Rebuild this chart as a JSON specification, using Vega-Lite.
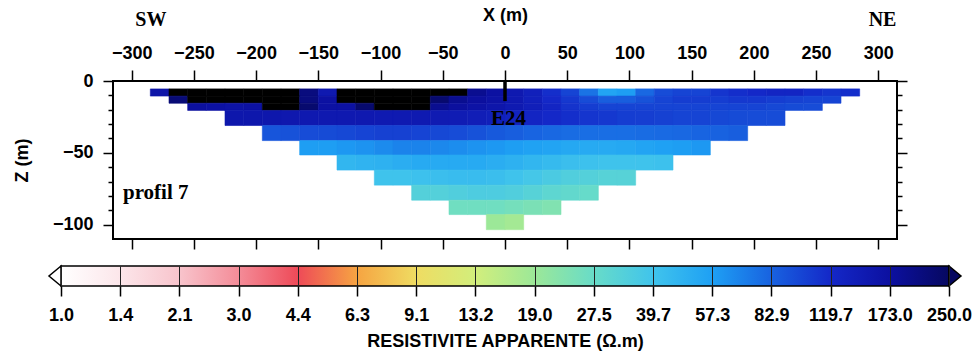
{
"$schema": "https://vega.github.io/schema/vega-lite/v6.json",
"background": "white",
"padding": {"left": 12, "top": 5, "right": 5, "bottom": 5},
"bounds": "flush",
"center": true,
"spacing": 27,
"config": {
  "font": "Liberation Sans",
  "axis": {"labelFont": "Liberation Sans", "labelFontSize": 18, "labelFontWeight": "bold", "labelColor": "black", "titleFont": "Liberation Sans", "titleFontSize": 18, "titleFontWeight": "bold", "titleColor": "black", "tickColor": "black", "tickWidth": 1.5, "labelFlush": false, "labelOverlap": false, "grid": false, "domain": false}
},
"vconcat": [
{
  "width": 784, "height": 158,
  "view": {"stroke": "black", "strokeWidth": 2},
  "resolve": {"axis": {"x": "independent", "y": "independent"}},
  "layer": [
  {
    "data": {"values": [
{"x0":-285,"x1":-270,"z0":-5.5,"z1":-10.5,"r":160},
{"x0":-270,"x1":-255,"z0":-5.5,"z1":-10.5,"r":300},
{"x0":-255,"x1":-240,"z0":-5.5,"z1":-10.5,"r":300},
{"x0":-240,"x1":-225,"z0":-5.5,"z1":-10.5,"r":300},
{"x0":-225,"x1":-210,"z0":-5.5,"z1":-10.5,"r":300},
{"x0":-210,"x1":-195,"z0":-5.5,"z1":-10.5,"r":300},
{"x0":-195,"x1":-180,"z0":-5.5,"z1":-10.5,"r":300},
{"x0":-180,"x1":-165,"z0":-5.5,"z1":-10.5,"r":300},
{"x0":-165,"x1":-150,"z0":-5.5,"z1":-10.5,"r":210},
{"x0":-150,"x1":-135,"z0":-5.5,"z1":-10.5,"r":150},
{"x0":-135,"x1":-120,"z0":-5.5,"z1":-10.5,"r":300},
{"x0":-120,"x1":-105,"z0":-5.5,"z1":-10.5,"r":300},
{"x0":-105,"x1":-90,"z0":-5.5,"z1":-10.5,"r":300},
{"x0":-90,"x1":-75,"z0":-5.5,"z1":-10.5,"r":300},
{"x0":-75,"x1":-60,"z0":-5.5,"z1":-10.5,"r":300},
{"x0":-60,"x1":-45,"z0":-5.5,"z1":-10.5,"r":300},
{"x0":-45,"x1":-30,"z0":-5.5,"z1":-10.5,"r":300},
{"x0":-30,"x1":-15,"z0":-5.5,"z1":-10.5,"r":190},
{"x0":-15,"x1":0,"z0":-5.5,"z1":-10.5,"r":170},
{"x0":0,"x1":15,"z0":-5.5,"z1":-10.5,"r":150},
{"x0":15,"x1":30,"z0":-5.5,"z1":-10.5,"r":135},
{"x0":30,"x1":45,"z0":-5.5,"z1":-10.5,"r":115},
{"x0":45,"x1":60,"z0":-5.5,"z1":-10.5,"r":100},
{"x0":60,"x1":75,"z0":-5.5,"z1":-10.5,"r":75},
{"x0":75,"x1":90,"z0":-5.5,"z1":-10.5,"r":55},
{"x0":90,"x1":105,"z0":-5.5,"z1":-10.5,"r":58},
{"x0":105,"x1":120,"z0":-5.5,"z1":-10.5,"r":80},
{"x0":120,"x1":135,"z0":-5.5,"z1":-10.5,"r":95},
{"x0":135,"x1":150,"z0":-5.5,"z1":-10.5,"r":100},
{"x0":150,"x1":165,"z0":-5.5,"z1":-10.5,"r":100},
{"x0":165,"x1":180,"z0":-5.5,"z1":-10.5,"r":110},
{"x0":180,"x1":195,"z0":-5.5,"z1":-10.5,"r":115},
{"x0":195,"x1":210,"z0":-5.5,"z1":-10.5,"r":120},
{"x0":210,"x1":225,"z0":-5.5,"z1":-10.5,"r":125},
{"x0":225,"x1":240,"z0":-5.5,"z1":-10.5,"r":125},
{"x0":240,"x1":255,"z0":-5.5,"z1":-10.5,"r":115},
{"x0":255,"x1":270,"z0":-5.5,"z1":-10.5,"r":110},
{"x0":270,"x1":285,"z0":-5.5,"z1":-10.5,"r":115},

{"x0":-270,"x1":-255,"z0":-10.5,"z1":-15.5,"r":220},
{"x0":-255,"x1":-240,"z0":-10.5,"z1":-15.5,"r":300},
{"x0":-240,"x1":-225,"z0":-10.5,"z1":-15.5,"r":300},
{"x0":-225,"x1":-210,"z0":-10.5,"z1":-15.5,"r":300},
{"x0":-210,"x1":-195,"z0":-10.5,"z1":-15.5,"r":300},
{"x0":-195,"x1":-180,"z0":-10.5,"z1":-15.5,"r":300},
{"x0":-180,"x1":-165,"z0":-10.5,"z1":-15.5,"r":300},
{"x0":-165,"x1":-150,"z0":-10.5,"z1":-15.5,"r":210},
{"x0":-150,"x1":-135,"z0":-10.5,"z1":-15.5,"r":170},
{"x0":-135,"x1":-120,"z0":-10.5,"z1":-15.5,"r":300},
{"x0":-120,"x1":-105,"z0":-10.5,"z1":-15.5,"r":300},
{"x0":-105,"x1":-90,"z0":-10.5,"z1":-15.5,"r":300},
{"x0":-90,"x1":-75,"z0":-10.5,"z1":-15.5,"r":300},
{"x0":-75,"x1":-60,"z0":-10.5,"z1":-15.5,"r":300},
{"x0":-60,"x1":-45,"z0":-10.5,"z1":-15.5,"r":230},
{"x0":-45,"x1":-30,"z0":-10.5,"z1":-15.5,"r":190},
{"x0":-30,"x1":-15,"z0":-10.5,"z1":-15.5,"r":175},
{"x0":-15,"x1":0,"z0":-10.5,"z1":-15.5,"r":165},
{"x0":0,"x1":15,"z0":-10.5,"z1":-15.5,"r":150},
{"x0":15,"x1":30,"z0":-10.5,"z1":-15.5,"r":135},
{"x0":30,"x1":45,"z0":-10.5,"z1":-15.5,"r":120},
{"x0":45,"x1":60,"z0":-10.5,"z1":-15.5,"r":108},
{"x0":60,"x1":75,"z0":-10.5,"z1":-15.5,"r":95},
{"x0":75,"x1":90,"z0":-10.5,"z1":-15.5,"r":85},
{"x0":90,"x1":105,"z0":-10.5,"z1":-15.5,"r":85},
{"x0":105,"x1":120,"z0":-10.5,"z1":-15.5,"r":92},
{"x0":120,"x1":135,"z0":-10.5,"z1":-15.5,"r":100},
{"x0":135,"x1":150,"z0":-10.5,"z1":-15.5,"r":105},
{"x0":150,"x1":165,"z0":-10.5,"z1":-15.5,"r":105},
{"x0":165,"x1":180,"z0":-10.5,"z1":-15.5,"r":105},
{"x0":180,"x1":195,"z0":-10.5,"z1":-15.5,"r":108},
{"x0":195,"x1":210,"z0":-10.5,"z1":-15.5,"r":108},
{"x0":210,"x1":225,"z0":-10.5,"z1":-15.5,"r":105},
{"x0":225,"x1":240,"z0":-10.5,"z1":-15.5,"r":102},
{"x0":240,"x1":255,"z0":-10.5,"z1":-15.5,"r":100},
{"x0":255,"x1":270,"z0":-10.5,"z1":-15.5,"r":100},

{"x0":-255,"x1":-240,"z0":-15.5,"z1":-20.5,"r":175},
{"x0":-240,"x1":-225,"z0":-15.5,"z1":-20.5,"r":170},
{"x0":-225,"x1":-210,"z0":-15.5,"z1":-20.5,"r":165},
{"x0":-210,"x1":-195,"z0":-15.5,"z1":-20.5,"r":170},
{"x0":-195,"x1":-180,"z0":-15.5,"z1":-20.5,"r":300},
{"x0":-180,"x1":-165,"z0":-15.5,"z1":-20.5,"r":300},
{"x0":-165,"x1":-150,"z0":-15.5,"z1":-20.5,"r":230},
{"x0":-150,"x1":-135,"z0":-15.5,"z1":-20.5,"r":170},
{"x0":-135,"x1":-120,"z0":-15.5,"z1":-20.5,"r":170},
{"x0":-120,"x1":-105,"z0":-15.5,"z1":-20.5,"r":230},
{"x0":-105,"x1":-90,"z0":-15.5,"z1":-20.5,"r":300},
{"x0":-90,"x1":-75,"z0":-15.5,"z1":-20.5,"r":300},
{"x0":-75,"x1":-60,"z0":-15.5,"z1":-20.5,"r":260},
{"x0":-60,"x1":-45,"z0":-15.5,"z1":-20.5,"r":190},
{"x0":-45,"x1":-30,"z0":-15.5,"z1":-20.5,"r":175},
{"x0":-30,"x1":-15,"z0":-15.5,"z1":-20.5,"r":165},
{"x0":-15,"x1":0,"z0":-15.5,"z1":-20.5,"r":158},
{"x0":0,"x1":15,"z0":-15.5,"z1":-20.5,"r":148},
{"x0":15,"x1":30,"z0":-15.5,"z1":-20.5,"r":138},
{"x0":30,"x1":45,"z0":-15.5,"z1":-20.5,"r":125},
{"x0":45,"x1":60,"z0":-15.5,"z1":-20.5,"r":112},
{"x0":60,"x1":75,"z0":-15.5,"z1":-20.5,"r":105},
{"x0":75,"x1":90,"z0":-15.5,"z1":-20.5,"r":100},
{"x0":90,"x1":105,"z0":-15.5,"z1":-20.5,"r":100},
{"x0":105,"x1":120,"z0":-15.5,"z1":-20.5,"r":100},
{"x0":120,"x1":135,"z0":-15.5,"z1":-20.5,"r":100},
{"x0":135,"x1":150,"z0":-15.5,"z1":-20.5,"r":100},
{"x0":150,"x1":165,"z0":-15.5,"z1":-20.5,"r":100},
{"x0":165,"x1":180,"z0":-15.5,"z1":-20.5,"r":100},
{"x0":180,"x1":195,"z0":-15.5,"z1":-20.5,"r":100},
{"x0":195,"x1":210,"z0":-15.5,"z1":-20.5,"r":100},
{"x0":210,"x1":225,"z0":-15.5,"z1":-20.5,"r":98},
{"x0":225,"x1":240,"z0":-15.5,"z1":-20.5,"r":96},
{"x0":240,"x1":255,"z0":-15.5,"z1":-20.5,"r":95},

{"x0":-225,"x1":-210,"z0":-20.5,"z1":-31,"r":155},
{"x0":-210,"x1":-195,"z0":-20.5,"z1":-31,"r":155},
{"x0":-195,"x1":-180,"z0":-20.5,"z1":-31,"r":155},
{"x0":-180,"x1":-165,"z0":-20.5,"z1":-31,"r":152},
{"x0":-165,"x1":-150,"z0":-20.5,"z1":-31,"r":150},
{"x0":-150,"x1":-135,"z0":-20.5,"z1":-31,"r":150},
{"x0":-135,"x1":-120,"z0":-20.5,"z1":-31,"r":150},
{"x0":-120,"x1":-105,"z0":-20.5,"z1":-31,"r":150},
{"x0":-105,"x1":-90,"z0":-20.5,"z1":-31,"r":148},
{"x0":-90,"x1":-75,"z0":-20.5,"z1":-31,"r":148},
{"x0":-75,"x1":-60,"z0":-20.5,"z1":-31,"r":148},
{"x0":-60,"x1":-45,"z0":-20.5,"z1":-31,"r":146},
{"x0":-45,"x1":-30,"z0":-20.5,"z1":-31,"r":144},
{"x0":-30,"x1":-15,"z0":-20.5,"z1":-31,"r":140},
{"x0":-15,"x1":0,"z0":-20.5,"z1":-31,"r":136},
{"x0":0,"x1":15,"z0":-20.5,"z1":-31,"r":130},
{"x0":15,"x1":30,"z0":-20.5,"z1":-31,"r":125},
{"x0":30,"x1":45,"z0":-20.5,"z1":-31,"r":120},
{"x0":45,"x1":60,"z0":-20.5,"z1":-31,"r":115},
{"x0":60,"x1":75,"z0":-20.5,"z1":-31,"r":110},
{"x0":75,"x1":90,"z0":-20.5,"z1":-31,"r":108},
{"x0":90,"x1":105,"z0":-20.5,"z1":-31,"r":105},
{"x0":105,"x1":120,"z0":-20.5,"z1":-31,"r":104},
{"x0":120,"x1":135,"z0":-20.5,"z1":-31,"r":102},
{"x0":135,"x1":150,"z0":-20.5,"z1":-31,"r":100},
{"x0":150,"x1":165,"z0":-20.5,"z1":-31,"r":100},
{"x0":165,"x1":180,"z0":-20.5,"z1":-31,"r":98},
{"x0":180,"x1":195,"z0":-20.5,"z1":-31,"r":96},
{"x0":195,"x1":210,"z0":-20.5,"z1":-31,"r":95},
{"x0":210,"x1":225,"z0":-20.5,"z1":-31,"r":95},

{"x0":-195,"x1":-180,"z0":-31,"z1":-41.5,"r":90},
{"x0":-180,"x1":-165,"z0":-31,"z1":-41.5,"r":92},
{"x0":-165,"x1":-150,"z0":-31,"z1":-41.5,"r":95},
{"x0":-150,"x1":-135,"z0":-31,"z1":-41.5,"r":96},
{"x0":-135,"x1":-120,"z0":-31,"z1":-41.5,"r":98},
{"x0":-120,"x1":-105,"z0":-31,"z1":-41.5,"r":100},
{"x0":-105,"x1":-90,"z0":-31,"z1":-41.5,"r":102},
{"x0":-90,"x1":-75,"z0":-31,"z1":-41.5,"r":102},
{"x0":-75,"x1":-60,"z0":-31,"z1":-41.5,"r":100},
{"x0":-60,"x1":-45,"z0":-31,"z1":-41.5,"r":98},
{"x0":-45,"x1":-30,"z0":-31,"z1":-41.5,"r":95},
{"x0":-30,"x1":-15,"z0":-31,"z1":-41.5,"r":92},
{"x0":-15,"x1":0,"z0":-31,"z1":-41.5,"r":88},
{"x0":0,"x1":15,"z0":-31,"z1":-41.5,"r":85},
{"x0":15,"x1":30,"z0":-31,"z1":-41.5,"r":82},
{"x0":30,"x1":45,"z0":-31,"z1":-41.5,"r":80},
{"x0":45,"x1":60,"z0":-31,"z1":-41.5,"r":78},
{"x0":60,"x1":75,"z0":-31,"z1":-41.5,"r":77},
{"x0":75,"x1":90,"z0":-31,"z1":-41.5,"r":77},
{"x0":90,"x1":105,"z0":-31,"z1":-41.5,"r":77},
{"x0":105,"x1":120,"z0":-31,"z1":-41.5,"r":78},
{"x0":120,"x1":135,"z0":-31,"z1":-41.5,"r":79},
{"x0":135,"x1":150,"z0":-31,"z1":-41.5,"r":80},
{"x0":150,"x1":165,"z0":-31,"z1":-41.5,"r":82},
{"x0":165,"x1":180,"z0":-31,"z1":-41.5,"r":83},
{"x0":180,"x1":195,"z0":-31,"z1":-41.5,"r":85},

{"x0":-165,"x1":-150,"z0":-41.5,"z1":-51.5,"r":58},
{"x0":-150,"x1":-135,"z0":-41.5,"z1":-51.5,"r":58},
{"x0":-135,"x1":-120,"z0":-41.5,"z1":-51.5,"r":60},
{"x0":-120,"x1":-105,"z0":-41.5,"z1":-51.5,"r":62},
{"x0":-105,"x1":-90,"z0":-41.5,"z1":-51.5,"r":65},
{"x0":-90,"x1":-75,"z0":-41.5,"z1":-51.5,"r":68},
{"x0":-75,"x1":-60,"z0":-41.5,"z1":-51.5,"r":68},
{"x0":-60,"x1":-45,"z0":-41.5,"z1":-51.5,"r":66},
{"x0":-45,"x1":-30,"z0":-41.5,"z1":-51.5,"r":64},
{"x0":-30,"x1":-15,"z0":-41.5,"z1":-51.5,"r":62},
{"x0":-15,"x1":0,"z0":-41.5,"z1":-51.5,"r":60},
{"x0":0,"x1":15,"z0":-41.5,"z1":-51.5,"r":58},
{"x0":15,"x1":30,"z0":-41.5,"z1":-51.5,"r":56},
{"x0":30,"x1":45,"z0":-41.5,"z1":-51.5,"r":55},
{"x0":45,"x1":60,"z0":-41.5,"z1":-51.5,"r":53},
{"x0":60,"x1":75,"z0":-41.5,"z1":-51.5,"r":52},
{"x0":75,"x1":90,"z0":-41.5,"z1":-51.5,"r":52},
{"x0":90,"x1":105,"z0":-41.5,"z1":-51.5,"r":53},
{"x0":105,"x1":120,"z0":-41.5,"z1":-51.5,"r":55},
{"x0":120,"x1":135,"z0":-41.5,"z1":-51.5,"r":57},
{"x0":135,"x1":150,"z0":-41.5,"z1":-51.5,"r":58},
{"x0":150,"x1":165,"z0":-41.5,"z1":-51.5,"r":60},

{"x0":-135,"x1":-120,"z0":-51.5,"z1":-62,"r":46},
{"x0":-120,"x1":-105,"z0":-51.5,"z1":-62,"r":47},
{"x0":-105,"x1":-90,"z0":-51.5,"z1":-62,"r":48},
{"x0":-90,"x1":-75,"z0":-51.5,"z1":-62,"r":50},
{"x0":-75,"x1":-60,"z0":-51.5,"z1":-62,"r":52},
{"x0":-60,"x1":-45,"z0":-51.5,"z1":-62,"r":52},
{"x0":-45,"x1":-30,"z0":-51.5,"z1":-62,"r":52},
{"x0":-30,"x1":-15,"z0":-51.5,"z1":-62,"r":52},
{"x0":-15,"x1":0,"z0":-51.5,"z1":-62,"r":50},
{"x0":0,"x1":15,"z0":-51.5,"z1":-62,"r":48},
{"x0":15,"x1":30,"z0":-51.5,"z1":-62,"r":46},
{"x0":30,"x1":45,"z0":-51.5,"z1":-62,"r":44},
{"x0":45,"x1":60,"z0":-51.5,"z1":-62,"r":42},
{"x0":60,"x1":75,"z0":-51.5,"z1":-62,"r":41},
{"x0":75,"x1":90,"z0":-51.5,"z1":-62,"r":40},
{"x0":90,"x1":105,"z0":-51.5,"z1":-62,"r":40},
{"x0":105,"x1":120,"z0":-51.5,"z1":-62,"r":40},
{"x0":120,"x1":135,"z0":-51.5,"z1":-62,"r":41},

{"x0":-105,"x1":-90,"z0":-62,"z1":-72.5,"r":40},
{"x0":-90,"x1":-75,"z0":-62,"z1":-72.5,"r":40},
{"x0":-75,"x1":-60,"z0":-62,"z1":-72.5,"r":41},
{"x0":-60,"x1":-45,"z0":-62,"z1":-72.5,"r":42},
{"x0":-45,"x1":-30,"z0":-62,"z1":-72.5,"r":43},
{"x0":-30,"x1":-15,"z0":-62,"z1":-72.5,"r":43},
{"x0":-15,"x1":0,"z0":-62,"z1":-72.5,"r":42},
{"x0":0,"x1":15,"z0":-62,"z1":-72.5,"r":40},
{"x0":15,"x1":30,"z0":-62,"z1":-72.5,"r":38},
{"x0":30,"x1":45,"z0":-62,"z1":-72.5,"r":36},
{"x0":45,"x1":60,"z0":-62,"z1":-72.5,"r":34},
{"x0":60,"x1":75,"z0":-62,"z1":-72.5,"r":33},
{"x0":75,"x1":90,"z0":-62,"z1":-72.5,"r":32},
{"x0":90,"x1":105,"z0":-62,"z1":-72.5,"r":32},

{"x0":-75,"x1":-60,"z0":-72.5,"z1":-83,"r":33},
{"x0":-60,"x1":-45,"z0":-72.5,"z1":-83,"r":33},
{"x0":-45,"x1":-30,"z0":-72.5,"z1":-83,"r":34},
{"x0":-30,"x1":-15,"z0":-72.5,"z1":-83,"r":35},
{"x0":-15,"x1":0,"z0":-72.5,"z1":-83,"r":35},
{"x0":0,"x1":15,"z0":-72.5,"z1":-83,"r":34},
{"x0":15,"x1":30,"z0":-72.5,"z1":-83,"r":32},
{"x0":30,"x1":45,"z0":-72.5,"z1":-83,"r":30},
{"x0":45,"x1":60,"z0":-72.5,"z1":-83,"r":29},
{"x0":60,"x1":75,"z0":-72.5,"z1":-83,"r":28},

{"x0":-45,"x1":-30,"z0":-83,"z1":-93,"r":26},
{"x0":-30,"x1":-15,"z0":-83,"z1":-93,"r":26},
{"x0":-15,"x1":0,"z0":-83,"z1":-93,"r":26},
{"x0":0,"x1":15,"z0":-83,"z1":-93,"r":25},
{"x0":15,"x1":30,"z0":-83,"z1":-93,"r":24},
{"x0":30,"x1":45,"z0":-83,"z1":-93,"r":23},

{"x0":-15,"x1":0,"z0":-93,"z1":-103.5,"r":19},
{"x0":0,"x1":15,"z0":-93,"z1":-103.5,"r":18}
    ]},
    "mark": {"type": "rect", "strokeWidth": 0.6},
    "encoding": {
      "x": {"field": "x0", "type": "quantitative", "scale": {"domain": [-315, 315], "nice": false, "zero": false},
            "axis": {"orient": "top", "values": [-300,-250,-200,-150,-100,-50,0,50,100,150,200,250,300], "title": "X (m)", "tickSize": 11, "labelPadding": 8, "titlePadding": 20}},
      "x2": {"field": "x1"},
      "y": {"field": "z0", "type": "quantitative", "scale": {"domain": [-110, 0], "nice": false, "zero": false},
            "axis": {"orient": "left", "values": [0, -50, -100], "title": "Z (m)", "tickSize": 10, "labelPadding": 10, "titlePadding": 21}},
      "y2": {"field": "z1"},
      "fill": {"field": "r", "type": "quantitative", "legend": null,
               "condition": {"test": "datum.r > 250", "value": "black"},
               "scale": {"type": "log", "interpolate": "rgb",
                         "domain": [1, 1.44497, 2.08794, 3.01704, 4.35951, 6.2994, 9.10247, 13.1529, 19.0054, 27.4623, 39.6825, 57.34, 82.8545, 119.723, 172.998, 250],
                         "range": ["#FFFFFF","#FCE6EA","#F8C4CC","#F48C98","#EE4A58","#F6A442","#EFDC62","#D2EE7C","#9CE898","#68DCC8","#40C4EC","#1EA0F4","#1862E0","#1428C8","#0C10A0","#060860"]}},
      "stroke": {"field": "r", "type": "quantitative", "legend": null,
               "condition": {"test": "datum.r > 250", "value": "black"},
               "scale": {"type": "log", "interpolate": "rgb",
                         "domain": [1, 1.44497, 2.08794, 3.01704, 4.35951, 6.2994, 9.10247, 13.1529, 19.0054, 27.4623, 39.6825, 57.34, 82.8545, 119.723, 172.998, 250],
                         "range": ["#FFFFFF","#FCE6EA","#F8C4CC","#F48C98","#EE4A58","#F6A442","#EFDC62","#D2EE7C","#9CE898","#68DCC8","#40C4EC","#1EA0F4","#1862E0","#1428C8","#0C10A0","#060860"]}}
    }
  },
  {
    "data": {"values": [{"x": 0, "za": 0, "zb": -14}]},
    "mark": {"type": "rule", "strokeWidth": 3.5, "color": "black"},
    "encoding": {
      "x": {"field": "x", "type": "quantitative",
            "axis": {"orient": "bottom", "values": [-300,-250,-200,-150,-100,-50,0,50,100,150,200,250,300], "labels": false, "title": null, "tickSize": 10}},
      "y": {"field": "za", "type": "quantitative",
            "axis": {"orient": "right", "values": [0, -50, -100], "labels": false, "title": null, "tickSize": 10}},
      "y2": {"field": "zb"}
    }
  },
  {
    "data": {"values": [{"x": 2.8, "z": -30.6, "t": "E24"}]},
    "mark": {"type": "text", "font": "Liberation Serif", "fontWeight": "bold", "fontSize": 21, "align": "center", "baseline": "alphabetic", "color": "black"},
    "encoding": {
      "x": {"field": "x", "type": "quantitative",
            "axis": {"orient": "top", "values": [-285, 303], "labelExpr": "datum.value < 0 ? 'SW' : 'NE'", "ticks": false, "tickSize": 0, "title": null, "labelPadding": 52, "labelFont": "Liberation Serif", "labelFontSize": 20, "labelFontWeight": "bold"}},
      "y": {"field": "z", "type": "quantitative",
            "axis": {"orient": "left", "values": [-10,-20,-30,-40,-60,-70,-80,-90], "labels": false, "title": null, "tickSize": 5}},
      "text": {"field": "t"}
    }
  },
  {
    "data": {"values": [{"x": -307, "z": -82.2, "t": "profil 7"}]},
    "mark": {"type": "text", "font": "Liberation Serif", "fontWeight": "bold", "fontSize": 21, "align": "left", "baseline": "alphabetic", "color": "black"},
    "encoding": {
      "x": {"field": "x", "type": "quantitative", "axis": null},
      "y": {"field": "z", "type": "quantitative",
            "axis": {"orient": "right", "values": [-10,-20,-30,-40,-60,-70,-80,-90], "labels": false, "title": null, "tickSize": 5}},
      "text": {"field": "t"}
    }
  }
  ]
},
{
  "width": 888, "height": 20,
  "view": {"stroke": null},
  "layer": [
  {
    "data": {"values": [{"lo": 1, "hi": 250}]},
    "mark": {"type": "rect", "stroke": "black", "strokeWidth": 1.5,
             "fill": {"gradient": "linear", "x1": 0, "y1": 0, "x2": 1, "y2": 0, "stops": [
               {"offset": 0, "color": "#FFFFFF"},
               {"offset": 0.066667, "color": "#FCE6EA"},
               {"offset": 0.133333, "color": "#F8C4CC"},
               {"offset": 0.2, "color": "#F48C98"},
               {"offset": 0.266667, "color": "#EE4A58"},
               {"offset": 0.333333, "color": "#F6A442"},
               {"offset": 0.4, "color": "#EFDC62"},
               {"offset": 0.466667, "color": "#D2EE7C"},
               {"offset": 0.533333, "color": "#9CE898"},
               {"offset": 0.6, "color": "#68DCC8"},
               {"offset": 0.666667, "color": "#40C4EC"},
               {"offset": 0.733333, "color": "#1EA0F4"},
               {"offset": 0.8, "color": "#1862E0"},
               {"offset": 0.866667, "color": "#1428C8"},
               {"offset": 0.933333, "color": "#0C10A0"},
               {"offset": 1, "color": "#060860"}]}},
    "encoding": {
      "x": {"field": "lo", "type": "quantitative", "scale": {"type": "log", "domain": [1, 250], "nice": false},
            "axis": {"orient": "bottom", "values": [1, 1.44497, 2.08794, 3.01704, 4.35951, 6.2994, 9.10247, 13.1529, 19.0054, 27.4623, 39.6825, 57.34, 82.8545, 119.723, 172.998, 250],
                     "format": ".1f", "tickSize": 10, "labelPadding": 10, "title": "RESISTIVITE APPARENTE (Ω.m)", "titlePadding": 8,
                     "grid": true, "gridColor": "#222222", "gridWidth": 1, "zindex": 1}},
      "x2": {"field": "hi"}
    }
  },
  {
    "data": {"values": [{"v": 1}]},
    "mark": {"type": "point", "shape": "M 0 -1 L -1.2 0 L 0 1 Z", "size": 400, "filled": true, "fill": "white", "stroke": "black", "strokeWidth": 1.5, "opacity": 1},
    "encoding": {"x": {"field": "v", "type": "quantitative"}}
  },
  {
    "data": {"values": [{"v": 250}]},
    "mark": {"type": "point", "shape": "M 0 -1 L 1.2 0 L 0 1 Z", "size": 400, "filled": true, "fill": "#060860", "stroke": "black", "strokeWidth": 1.5, "opacity": 1},
    "encoding": {"x": {"field": "v", "type": "quantitative"}}
  }
  ]
}
]
}
